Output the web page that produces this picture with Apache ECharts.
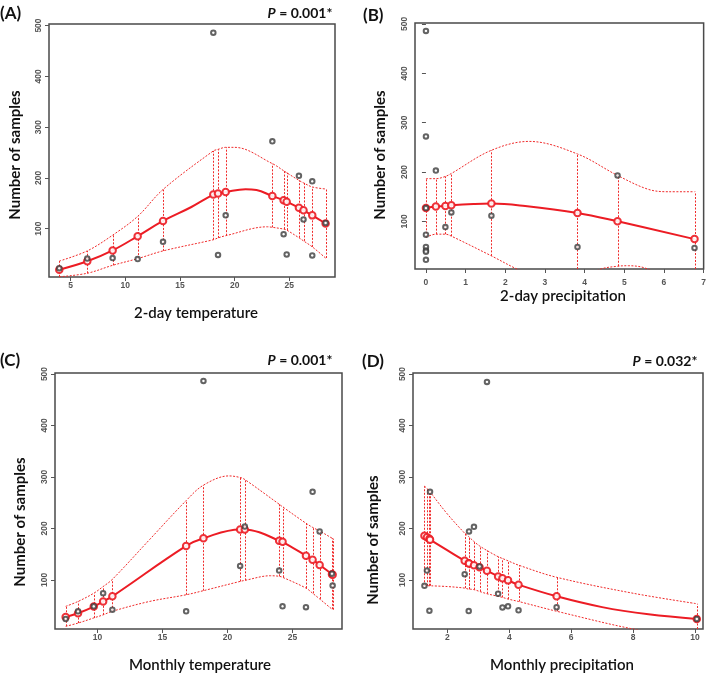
<!DOCTYPE html>
<html><head><meta charset="utf-8">
<script src="https://cdn.jsdelivr.net/npm/echarts@6/dist/echarts.min.js"></script>
<style>html,body{margin:0;padding:0;background:#fff}#c{width:709px;height:673px}</style>
</head><body><div id="c"></div>
<script>
// ---------- Panel A: 2-day temperature ----------
const A_ptsX = [3.96, 6.52, 8.84, 11.13, 13.45, 18.05, 18.48, 19.18, 23.45, 24.48, 24.76, 25.88, 26.3, 27.1, 27.1, 28.32];
const A_ptsY = [22, 41, 42, 40, 74, 486, 48, 126, 272, 89, 49, 204, 118, 193, 47, 111];
const A_fitX = [3.96, 6.52, 8.84, 11.13, 13.45, 18.05, 18.48, 19.18, 23.45, 24.48, 24.76, 25.88, 26.3, 27.1, 28.32];
const A_fitY = [19, 35.5, 57, 85, 115, 167, 169, 172, 164, 156, 153, 141, 136, 126, 110];
const A_curveX = [3.96, 6.52, 8.84, 11.13, 13.45, 16, 18.05, 18.48, 19.18, 21, 22, 23.45, 24.48, 24.76, 25.88, 26.3, 27.1, 28.32];
const A_curveY = [19, 35.5, 57, 85, 115, 142, 167, 169, 172, 177.5, 176, 164, 156, 153, 141, 136, 126, 110];
const A_upX = [3.96, 6.52, 8.84, 11.13, 13.45, 18.05, 18.48, 19.18, 20, 23.45, 24.48, 24.76, 25.88, 26.3, 27.1, 28.32];
const A_upY = [36, 56, 87, 124, 177, 253, 256, 260, 260, 228, 214, 210, 195, 190, 182, 178];
const A_loX = [3.96, 6.52, 8.84, 11.13, 13.45, 18.05, 18.48, 19.18, 23, 23.45, 24.48, 24.76, 25.88, 26.3, 27.1, 28.32];
const A_loY = [5, 12, 27.6, 40.8, 56, 78, 81.6, 86, 103.5, 102.5, 99, 97, 82, 75.7, 64, 42];
const A_xTicks = [5, 10, 15, 20, 25];

// ---------- Panel B: 2-day precipitation ----------
const B_ptsX = [0, 0, 0, 0, 0, 0, 0, 0, 0.25, 0.49, 0.64, 1.65, 3.82, 4.83, 6.77];
const B_ptsY = [486, 272, 127, 73, 48, 41, 38.5, 22, 203, 88.5, 118, 111.5, 48, 193, 46];
const B_fitX = [0, 0.25, 0.49, 0.64, 1.65, 3.82, 4.83, 6.77];
const B_fitY = [127, 130, 131, 132.4, 136, 117, 100, 64];
const B_curveX = [0, 0.25, 0.49, 0.64, 1.2, 1.65, 2.5, 3.82, 4.83, 6.77];
const B_curveY = [127, 130, 131, 132.4, 135, 136, 131, 117, 100, 64];
const B_upX = [0, 0.25, 0.49, 0.64, 1.65, 2.6, 3.82, 4.83, 5.6, 6.1, 6.77];
const B_upY = [186.5, 186.5, 191, 197, 244, 262, 236.5, 193, 165, 160, 160];
const B_loX = [0, 0.25, 0.49, 0.64, 1.65, 2.3, 3.1, 3.82, 4.4, 4.83, 5.1, 5.6, 6.77];
const B_loY = [67.6, 74, 74, 70, 30, 3, -25, -20, 3, 9, 10, 3, -50];
const B_xTicks = [0, 1, 2, 3, 4, 5, 6, 7];

// ---------- Panel C: Monthly temperature ----------
const C_ptsX = [7.56, 8.51, 9.72, 10.44, 11.15, 16.82, 18.15, 20.97, 21.33, 23.97, 24.23, 26.03, 26.54, 27.08, 28.03, 28.08];
const C_ptsY = [24, 38.8, 48.5, 74, 42, 38.8, 486.6, 127, 203.5, 118, 48.5, 47, 271, 194, 112, 89];
const C_fitX = [7.56, 8.51, 9.72, 10.44, 11.15, 16.82, 18.15, 20.97, 21.33, 23.97, 24.23, 26.03, 26.54, 27.08, 28.03, 28.08];
const C_fitY = [27.8, 35, 48, 58, 68, 166, 181, 198, 198, 176, 174, 147, 139, 129, 111, 110];
const C_curveX = [7.56, 8.51, 9.72, 10.44, 11.15, 16.82, 18.15, 20.97, 21.33, 22.5, 23.97, 24.23, 26.03, 26.54, 27.08, 28.03, 28.08];
const C_curveY = [27.8, 35, 48, 58, 68, 166, 181, 198, 198, 192, 176, 174, 147, 139, 129, 111, 110];
const C_upX = [7.56, 8.51, 9.72, 10.44, 11.15, 14, 16.82, 18.15, 20.1, 20.97, 21.33, 23.97, 24.23, 26.03, 26.54, 27.08, 28.03, 28.08];
const C_upY = [48.5, 58, 74, 87, 101, 178, 254, 284, 302, 299, 295, 247, 242, 210, 202, 195, 181, 180];
const C_loX = [7.56, 8.51, 9.72, 10.44, 11.15, 14, 16.82, 18.15, 20.97, 21.33, 23.3, 23.97, 24.23, 26.03, 26.54, 27.08, 28.03, 28.08];
const C_loY = [9.7, 16, 26, 32, 39, 58, 71, 79, 97, 99, 108, 107, 105, 84, 74, 63, 43, 42];
const C_xTicks = [10, 15, 20, 25];

// ---------- Panel D: Monthly precipitation ----------
const D_ptsX = [1.26, 1.34, 1.42, 1.44, 2.56, 2.69, 2.70, 2.86, 3.04, 3.28, 3.64, 3.78, 3.96, 4.30, 5.53, 10.06];
const D_ptsY = [88.5, 118, 40, 271, 111, 39.4, 194, 203, 126, 484.6, 73, 46.5, 48.5, 40.7, 47, 24];
const D_fitX = [1.26, 1.34, 1.42, 1.44, 2.56, 2.69, 2.70, 2.86, 3.04, 3.28, 3.64, 3.78, 3.96, 4.30, 5.53, 10.06];
const D_fitY = [185.5, 183, 180, 178, 137, 132.5, 132, 128.6, 124.7, 117.6, 106.6, 103, 99, 90.5, 68, 24];
const D_curveX = [1.26, 1.34, 1.42, 1.44, 2.56, 2.69, 2.70, 2.86, 3.04, 3.28, 3.64, 3.78, 3.96, 4.30, 5.53, 7, 8.5, 10.06];
const D_curveY = [185.5, 183, 180, 178, 137, 132.5, 132, 128.6, 124.7, 117.6, 106.6, 103, 99, 90.5, 68, 47, 33, 24];
const D_upX = [1.26, 1.34, 1.42, 1.44, 2.0, 2.56, 2.69, 2.70, 2.86, 3.04, 3.28, 3.64, 3.78, 3.96, 4.30, 5.53, 8, 10.06];
const D_upY = [282, 278, 273, 271, 228, 190.6, 184, 183, 174.5, 166, 157, 145, 141.5, 137, 128.6, 105, 74, 53.6];
const D_loX = [1.26, 1.34, 1.42, 1.44, 2.0, 2.56, 2.69, 2.70, 2.86, 3.04, 3.28, 3.64, 3.78, 3.96, 4.30, 5.53, 8, 10.06];
const D_loY = [88.5, 88.5, 88.5, 88.5, 87, 84, 82, 82, 81, 77.5, 73, 68, 66, 62.7, 58, 39, 4.5, -15];
const D_xTicks = [2, 4, 6, 8, 10];

const yTicks = [100, 200, 300, 400, 500];
const yTitle = 'Number of samples';
const panelLabels = ['(A)', '(B)', '(C)', '(D)'];
const xTitles = ['2-day temperature', '2-day precipitation', 'Monthly temperature', 'Monthly precipitation'];
const pValues = ['0.001*', null, '0.001*', '0.032*'];

// ---------- layout (styles / positions) ----------
const panels = [
  {ptsX:A_ptsX, ptsY:A_ptsY, fitX:A_fitX, fitY:A_fitY, cX:A_curveX, cY:A_curveY, upX:A_upX, upY:A_upY, loX:A_loX, loY:A_loY, xt:A_xTicks,
   grid:{left:49, top:24, width:286, height:253}, x:[3.02, 29.18], y:[4.6, 503]},
  {ptsX:B_ptsX, ptsY:B_ptsY, fitX:B_fitX, fitY:B_fitY, cX:B_curveX, cY:B_curveY, upX:B_upX, upY:B_upY, loX:B_loX, loY:B_loY, xt:B_xTicks,
   grid:{left:415, top:23, width:290, height:246}, x:[-0.276, 7.0], y:[3.4, 502]},
  {ptsX:C_ptsX, ptsY:C_ptsY, fitX:C_fitX, fitY:C_fitY, cX:C_curveX, cY:C_curveY, upX:C_upX, upY:C_upY, loX:C_loX, loY:C_loY, xt:C_xTicks,
   grid:{left:55, top:373, width:287, height:256}, x:[6.74, 28.8], y:[4.5, 502]},
  {ptsX:D_ptsX, ptsY:D_ptsY, fitX:D_fitX, fitY:D_fitY, cX:D_curveX, cY:D_curveY, upX:D_upX, upY:D_upY, loX:D_loX, loY:D_loY, xt:D_xTicks,
   grid:{left:413, top:373, width:290, height:256}, x:[0.89, 10.26], y:[4.5, 502]}
];
const labelPos = [[0, 5], [363, 7], [0, 352], [362, 353]];
const pPos = [[300, 13], null, [300, 360], [665, 361]];
const yTitlePos = [[15, 155], [380, 155], [20, 522], [373, 540]];
const xTitlePos = [[196, 313], [563, 296], [200, 665], [562, 665]];
const xLabelMargin = [4, 9, 4, 4];

const RED = '#ec1c24';
const DASH_RED = '#f02a2a';
const DASH = [2, 1.5];
const zip = (xs, ys) => xs.map((x, i) => [x, ys[i]]);
const lookup = (xs, ys, x) => ys[xs.indexOf(x)];

const option = {animation:false, grid:[], xAxis:[], yAxis:[], series:[], graphic:[]};
const tickLabel = {fontSize:8.5, fontWeight:'bold', color:'#555', fontFamily:'Liberation Sans, Arial, sans-serif'};

function renderVLine(params, api) {
  const cs = params.coordSys;
  const p1 = api.coord([api.value(0), api.value(1)]);
  const p2 = api.coord([api.value(0), api.value(2)]);
  const yb = cs.y + cs.height, yt = cs.y;
  const y1 = Math.max(yt, Math.min(yb, p1[1]));
  const y2 = Math.max(yt, Math.min(yb, p2[1]));
  const x = Math.round(p1[0]) + 0.5;
  return {type:'line', shape:{x1:x, y1:y1, x2:x, y2:y2},
    style:{stroke:DASH_RED, lineWidth:1, lineDash:DASH, fill:null}};
}

panels.forEach((p, i) => {
  option.grid.push(Object.assign({show:true, borderColor:'#4a4a4a', borderWidth:1.5, backgroundColor:'#fff'}, p.grid));
  option.xAxis.push({type:'value', gridIndex:i, min:p.x[0], max:p.x[1], splitLine:{show:false},
    axisLine:{show:false}, axisTick:{show:true, length:4, lineStyle:{color:'#555'}, customValues:p.xt},
    axisLabel:Object.assign({margin:xLabelMargin[i], customValues:p.xt}, tickLabel)});
  option.yAxis.push({type:'value', gridIndex:i, min:p.y[0], max:p.y[1], splitLine:{show:false},
    axisLine:{show:false}, axisTick:{show:true, length:4, lineStyle:{color:'#555'}, customValues:yTicks},
    axisLabel:Object.assign({margin:6, rotate:90, customValues:yTicks}, tickLabel)});
  // vertical dashed segments at each fitted x (lower band -> upper band)
  const vData = p.fitX.map(x => [x, lookup(p.loX, p.loY, x), lookup(p.upX, p.upY, x)]);
  option.series.push({type:'custom', xAxisIndex:i, yAxisIndex:i, data:vData, renderItem:renderVLine,
    encode:{x:0, y:[1, 2]}, z:2, silent:true});
  option.series.push({type:'line', xAxisIndex:i, yAxisIndex:i, data:zip(p.upX, p.upY), showSymbol:false, smooth:0.35,
    lineStyle:{color:DASH_RED, width:1, type:DASH}, itemStyle:{color:DASH_RED}, z:2, clip:true});
  option.series.push({type:'line', xAxisIndex:i, yAxisIndex:i, data:zip(p.loX, p.loY), showSymbol:false, smooth:0.35,
    lineStyle:{color:DASH_RED, width:1, type:DASH}, itemStyle:{color:DASH_RED}, z:2, clip:true});
  option.series.push({type:'line', xAxisIndex:i, yAxisIndex:i, data:zip(p.cX, p.cY), showSymbol:false, smooth:0.4,
    lineStyle:{color:RED, width:2}, itemStyle:{color:RED}, z:3, clip:true});
  option.series.push({type:'scatter', xAxisIndex:i, yAxisIndex:i, data:zip(p.fitX, p.fitY), symbol:'emptyCircle', symbolSize:6.5,
    itemStyle:{color:RED, borderColor:RED, borderWidth:1.1, opacity:0.9}, z:4});
  option.series.push({type:'scatter', xAxisIndex:i, yAxisIndex:i, data:zip(p.ptsX, p.ptsY), symbol:'emptyCircle', symbolSize:4.5,
    itemStyle:{color:'#3c3c3c', borderColor:'#3c3c3c', borderWidth:0.9}, z:5});

  option.graphic.push({type:'text', left:labelPos[i][0], top:labelPos[i][1],
    style:{text:panelLabels[i], font:'bold 17px Lato, sans-serif', fill:'#111'}});
  if (pValues[i]) {
    option.graphic.push({type:'text', x:pPos[i][0], y:pPos[i][1],
      style:{text:'{i|P} = ' + pValues[i], align:'center', verticalAlign:'middle', fill:'#111',
        font:'bold 14px Lato, sans-serif',
        rich:{i:{fontStyle:'italic', fontWeight:'bold', fontSize:14, fontFamily:'Lato, sans-serif', fill:'#111'}}}});
  }
  option.graphic.push({type:'text', x:yTitlePos[i][0], y:yTitlePos[i][1], rotation:Math.PI/2,
    style:{text:yTitle, align:'center', verticalAlign:'middle', font:'bold 15px Lato, sans-serif', fill:'#111'}});
  option.graphic.push({type:'text', x:xTitlePos[i][0], y:xTitlePos[i][1],
    style:{text:xTitles[i], align:'center', verticalAlign:'middle', font:'600 15px Lato, sans-serif', fill:'#111'}});
});

const chart = echarts.init(document.getElementById('c'), null, {renderer:'canvas'});
chart.setOption(option);
</script>
</body></html>
